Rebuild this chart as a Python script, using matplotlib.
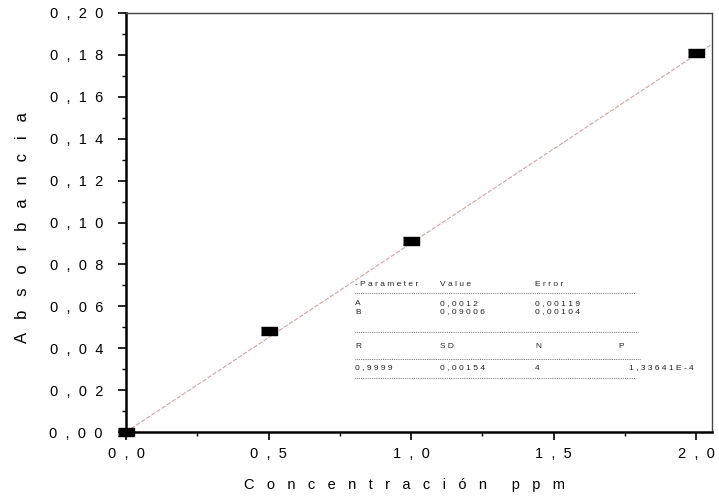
import numpy as np
import matplotlib
matplotlib.use("Agg")
import matplotlib.pyplot as plt
from matplotlib.lines import Line2D
from matplotlib.ticker import MultipleLocator, FixedLocator

plt.rcParams['font.family'] = ['Liberation Sans', 'DejaVu Sans']

# measured points
conc = [0.0, 0.5, 1.0, 2.0]
absorb = [0.0, 0.048, 0.091, 0.181]

# linear fit reported in the table
fit_a = 0.0012
fit_b = 0.09006

x_ticks = [0.0, 0.5, 1.0, 1.5, 2.0]
x_tick_labels = ["0,0", "0,5", "1,0", "1,5", "2,0"]
y_ticks = [0.00, 0.02, 0.04, 0.06, 0.08, 0.10, 0.12, 0.14, 0.16, 0.18, 0.20]
y_tick_labels = ["0,00", "0,02", "0,04", "0,06", "0,08", "0,10",
                 "0,12", "0,14", "0,16", "0,18", "0,20"]

table_header = ["-Parameter", "Value", "Error"]
table_rows = [["A", "0,0012", "0,00119"],
              ["B", "0,09006", "0,00104"]]
stats_header = ["R", "SD", "N", "P"]
stats_row = ["0,9999", "0,00154", "4", "1,33641E-4"]


def spaced(s, gap=" "):
    # scanned print has wide letter spacing
    return gap.join(s)


def tick_text(s):
    whole, frac = s.split(",")
    return whole + "  ,  " + "  ".join(frac)


W, H = 719, 499
fig = plt.figure(figsize=(W / 100, H / 100), dpi=100)
ax = fig.add_axes([126 / W, 1 - 432 / H, (712 - 126) / W, (432 - 13) / H])

# fitted line (drawn through the origin as in the print)
xl = np.array([0.0, 2.056])
ax.plot(xl, fit_b * xl, color="#d9a0a0", lw=0.8, ls=(0, (4, 1.5)), zorder=2)
rect = [(-1, -0.55), (1, -0.55), (1, 0.55), (-1, 0.55)]
ax.plot(conc, absorb, ls="none", marker=rect, markersize=11, color="black", zorder=3, clip_on=False)

ax.set_xlim(0, 2.056)
ax.set_ylim(0, 0.20)
ax.xaxis.set_major_locator(FixedLocator(x_ticks))
ax.set_xticklabels([tick_text(t) for t in x_tick_labels])
ax.xaxis.set_minor_locator(MultipleLocator(0.25))
ax.yaxis.set_major_locator(FixedLocator(y_ticks))
ax.set_yticklabels([tick_text(t) for t in y_tick_labels])
ax.yaxis.set_minor_locator(MultipleLocator(0.01))
ax.tick_params(which="major", direction="out", length=5.8, width=1.2, labelsize=10.5)
ax.tick_params(axis="y", which="major", pad=10.8)
ax.tick_params(axis="x", which="major", pad=5)
ax.tick_params(which="minor", direction="out", length=3, width=1.0)

for s in ["left", "bottom"]:
    ax.spines[s].set_linewidth(1.8)
for s in ["top", "right"]:
    ax.spines[s].set_linewidth(1.0)
    ax.spines[s].set_color("#444444")

ax.set_xlabel(spaced("Concentración", "   ") + "      " + spaced("ppm", "   "), fontsize=10.5)
ax.set_ylabel(spaced("Absorbancia", "   "), fontsize=12)
ax.xaxis.set_label_coords((405 - 126) / 586, -(485 - 432) / 419)
ax.yaxis.set_label_coords(-(126 - 23) / 586, (432 - 228) / 419)
ax.xaxis.label.set_va("center")
ax.yaxis.label.set_va("center")


def px(x, y):
    return x / W, 1 - y / H


fs = 6
tc = "#222222"
cols = [355, 440, 535]
for c, t in zip(cols, table_header):
    fig.text(*px(c, 285), spaced(t), fontsize=fs, color=tc, va="center")
for r, row in enumerate(table_rows):
    for c, t in zip(cols, row):
        fig.text(*px(c, 303.5 + 8.5 * r), spaced(t), fontsize=fs, color=tc, va="center")
for c, t in zip(cols + [618], stats_header):
    fig.text(*px(c, 346), spaced(t), fontsize=fs, color=tc, va="center")
for c, t in zip(cols + [629], stats_row):
    fig.text(*px(c, 368), spaced(t), fontsize=fs, color=tc, va="center")

for yy, x1 in [(293, 635), (332, 638), (359, 640), (378, 635)]:
    x0, y0 = px(355, yy)
    x1f, _ = px(x1, yy)
    fig.add_artist(Line2D([x0, x1f], [y0, y0], color="#555555", lw=0.6, ls=(0, (1, 1.2))))

fig.savefig("out.png", dpi=100)
